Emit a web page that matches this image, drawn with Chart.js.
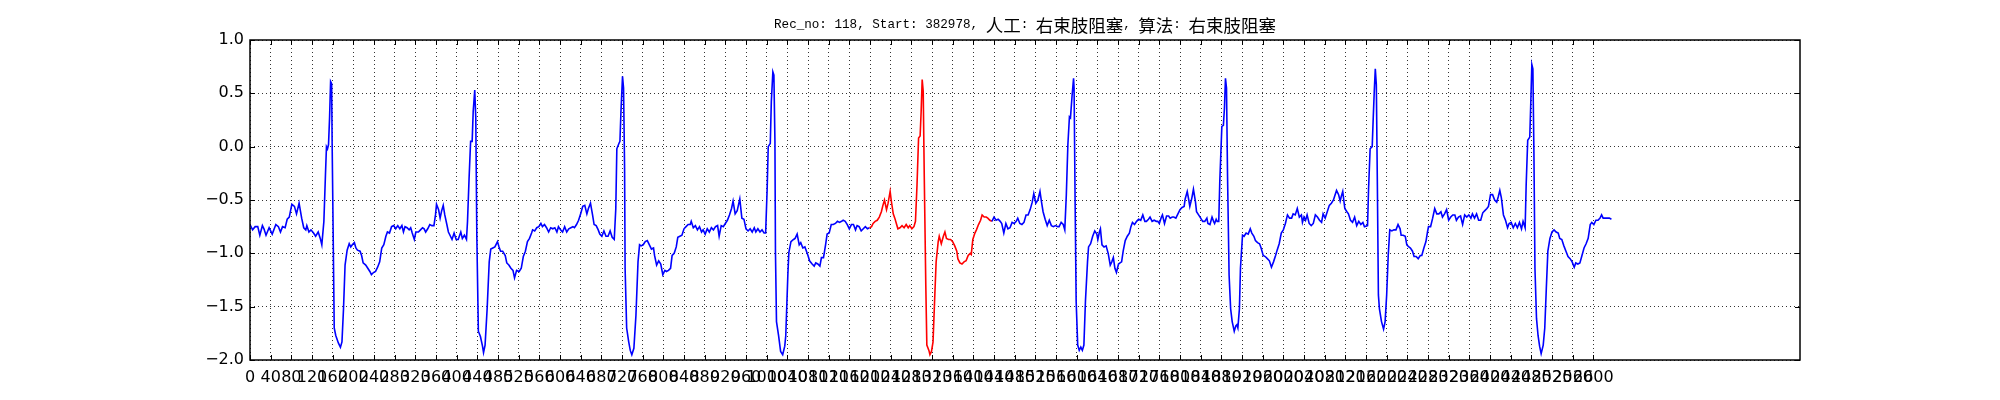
<!DOCTYPE html>
<html>
<head>
<meta charset="utf-8">
<script src="https://cdn.jsdelivr.net/npm/chart.js@4/dist/chart.umd.min.js"></script>
<style>
  html, body { margin: 0; padding: 0; background: #fff; }
  canvas { display: block; }
</style>
</head>
<body>
<canvas id="ecg" width="2000" height="400"></canvas>
<script>
// Record 118 excerpt.
// sampleIndex[i] pairs with amplitude[i]; rows are kept aligned 10 per line.
const sampleIndex = [
  0, 5, 10, 15, 19, 24, 27, 31, 37, 43,
  50, 55, 59, 63, 68, 72, 76, 81, 86, 90,
  95, 100, 104, 108, 110, 114, 118, 123, 127, 132,
  136, 139, 143, 146, 148, 150, 152, 154, 156, 158,
  159, 161, 163, 166, 171, 175, 178, 181, 184, 188,
  192, 195, 198, 202, 205, 208, 213, 216, 219, 224,
  228, 232, 235, 239, 243, 247, 251, 255, 259, 263,
  266, 270, 274, 278, 282, 286, 290, 294, 297, 300,
  304, 308, 311, 314, 318, 321, 326, 330, 334, 337,
  340, 344, 348, 352, 356, 359, 361, 365, 368, 371,
  374, 377, 381, 384, 388, 391, 395, 399, 403, 408,
  411, 415, 419, 421, 424, 427, 430, 432, 435, 437,
  439, 442, 446, 450, 452, 455, 459, 463, 466, 470,
  474, 479, 482, 485, 489, 494, 497, 501, 505, 509,
  512, 516, 521, 525,
  529, 533, 537, 541, 545, 547, 551, 555, 559, 563,
  566, 570, 574, 578, 582, 586, 590, 594, 597, 601,
  605, 609, 613, 617, 621, 625, 628, 632, 636, 640,
  644, 648, 652, 655, 659, 663, 666, 670, 674, 677,
  681, 685, 689, 693, 697, 701, 705, 708, 710, 714,
  716, 718, 721, 723, 725, 726, 729, 733, 736, 739,
  743, 747, 751, 754, 757, 761, 765, 769, 773, 777,
  781, 783, 787, 791, 795, 799, 803, 806, 810, 814,
  817, 821, 825, 828, 832, 836, 840, 844, 848, 852,
  854, 858, 862, 866, 870, 874, 877, 881, 885, 889,
  893, 897, 901, 905, 908, 912, 916, 920, 924, 928,
  932, 935, 939, 943, 948, 952, 956, 960, 964, 968,
  972, 976, 979, 983, 987, 991, 995, 998, 1001, 1003,
  1007, 1009, 1012, 1014, 1016, 1017, 1019, 1023, 1027, 1031,
  1035, 1037, 1041, 1043, 1047, 1052, 1055, 1059, 1063,
  1066, 1070, 1074, 1077, 1080, 1083, 1088, 1092, 1095, 1099,
  1103, 1106, 1110, 1114, 1117, 1121, 1125, 1129, 1133, 1137,
  1141, 1145, 1148, 1152, 1156, 1160, 1164, 1168, 1172, 1175,
  1179, 1183, 1187, 1191, 1195, 1199, 1203, 1206, 1210, 1214,
  1218, 1222, 1225, 1228, 1232, 1235, 1239, 1241, 1245, 1248,
  1251, 1254, 1258, 1262, 1266, 1270, 1274, 1277, 1281, 1285,
  1288, 1291, 1294, 1297, 1299, 1301, 1303, 1305, 1308, 1310,
  1314, 1316, 1319, 1322, 1325, 1328, 1332, 1334, 1338, 1342,
  1345, 1348, 1352, 1356, 1360, 1364, 1368, 1370, 1374, 1378,
  1382, 1386, 1390, 1394, 1396, 1399, 1403, 1406, 1410, 1414,
  1417, 1421, 1425, 1428, 1432, 1436, 1440, 1444, 1448, 1452,
  1455, 1459, 1463, 1467, 1471, 1475, 1479, 1483, 1486, 1490,
  1494, 1498, 1502, 1506, 1510, 1514, 1517, 1521, 1525, 1529,
  1532, 1535, 1539, 1543, 1547, 1551, 1555, 1559, 1563, 1566,
  1570, 1574, 1577, 1580, 1583, 1586, 1588, 1591, 1594,
  1595, 1597, 1599, 1602, 1605, 1608, 1611, 1614, 1617, 1621,
  1623, 1627, 1631, 1635, 1639, 1641, 1644, 1646, 1649, 1653,
  1657, 1661, 1665, 1668, 1671, 1674, 1677, 1681, 1684, 1687,
  1690, 1694, 1698, 1702, 1705, 1708, 1712, 1716, 1720, 1724,
  1728, 1732, 1735, 1739, 1742, 1746, 1750, 1754, 1757, 1760,
  1764, 1766, 1770, 1774, 1778, 1781, 1785, 1788, 1792, 1796,
  1800, 1804, 1808, 1810, 1814, 1817, 1819, 1823, 1826, 1830,
  1832, 1836, 1840, 1844, 1848, 1852, 1854, 1858, 1862, 1865,
  1867, 1870, 1872, 1875, 1877, 1881, 1884, 1886, 1888, 1890,
  1892, 1895, 1898, 1901, 1905, 1908, 1910, 1912, 1915, 1917,
  1921, 1924, 1928, 1932, 1936, 1939, 1943, 1946, 1950, 1954,
  1957, 1961, 1965, 1969, 1973, 1977, 1981, 1985, 1988, 1992,
  1996, 2000, 2004, 2008, 2012, 2016, 2019, 2023, 2027, 2031,
  2035, 2037, 2040, 2043, 2046, 2050, 2054, 2058, 2062, 2066,
  2070, 2074, 2077, 2081, 2085, 2089, 2093, 2097, 2099, 2103,
  2107, 2110, 2112, 2115, 2119, 2123, 2126,
  2130, 2134, 2138, 2142, 2146, 2150, 2154, 2157, 2163, 2165,
  2168, 2172, 2174, 2176, 2178, 2180, 2182, 2184, 2186, 2190,
  2194, 2197, 2200, 2203, 2206, 2210, 2214, 2218, 2222, 2226,
  2228, 2232, 2236, 2239, 2243, 2246, 2250, 2253, 2257, 2261,
  2265, 2268, 2272, 2276, 2279, 2281, 2285, 2289, 2293, 2297,
  2301, 2305, 2308, 2312, 2316, 2320, 2324, 2328, 2332, 2335,
  2339, 2343, 2347, 2351, 2355, 2359, 2363, 2366, 2370, 2374,
  2378, 2382, 2386, 2390, 2394, 2397, 2401, 2405, 2409, 2413,
  2416, 2419, 2422, 2426, 2430, 2434, 2437, 2441, 2445, 2449,
  2453, 2457, 2461, 2464, 2468, 2470, 2473, 2477, 2479, 2481,
  2483, 2485, 2487, 2490, 2493, 2496, 2499, 2503, 2506, 2509,
  2512, 2516, 2520, 2524, 2528, 2532, 2535, 2539, 2543, 2547,
  2551, 2555, 2559, 2563, 2566, 2570, 2574, 2578, 2582, 2586,
  2590, 2594, 2597, 2601, 2605, 2609, 2613, 2616, 2619, 2623,
  2627, 2631, 2635,
]

const amplitude = [
  -0.73, -0.78, -0.75, -0.75, -0.83, -0.74, -0.77, -0.83, -0.76, -0.82,
  -0.73, -0.75, -0.80, -0.75, -0.76, -0.68, -0.66, -0.54, -0.56, -0.63,
  -0.53, -0.67, -0.76, -0.78, -0.74, -0.80, -0.78, -0.81, -0.84, -0.80,
  -0.86, -0.92, -0.70, -0.27, 0.00, -0.02, 0.02, 0.27, 0.61, 0.59,
  0.02, -0.83, -1.70, -1.77, -1.84, -1.88, -1.83, -1.52, -1.11, -0.97,
  -0.91, -0.94, -0.92, -0.90, -0.95, -0.97, -0.98, -1.02, -1.09, -1.11,
  -1.14, -1.17, -1.20, -1.18, -1.17, -1.13, -1.08, -0.95, -0.92, -0.84,
  -0.80, -0.81, -0.75, -0.74, -0.77, -0.74, -0.77, -0.74, -0.80, -0.75,
  -0.76, -0.78, -0.76, -0.81, -0.87, -0.80, -0.80, -0.78, -0.76, -0.77,
  -0.80, -0.77, -0.73, -0.74, -0.74, -0.64, -0.54, -0.59, -0.67, -0.60,
  -0.55, -0.64, -0.73, -0.80, -0.84, -0.87, -0.81, -0.87, -0.87, -0.80,
  -0.86, -0.83, -0.87, -0.70, -0.30, 0.05, 0.05, 0.33, 0.53, 0.27,
  -0.83, -1.73, -1.78, -1.87, -1.93, -1.86, -1.52, -1.08, -0.96, -0.95,
  -0.94, -0.89, -0.94, -0.98, -0.98, -1.02, -1.09, -1.11, -1.14, -1.16,
  -1.23, -1.16, -1.17, -1.14,
  -1.03, -0.98, -0.89, -0.86, -0.81, -0.78, -0.79, -0.76, -0.75, -0.72,
  -0.75, -0.73, -0.76, -0.80, -0.76, -0.77, -0.76, -0.80, -0.75, -0.78,
  -0.80, -0.75, -0.80, -0.77, -0.76, -0.75, -0.76, -0.73, -0.69, -0.63,
  -0.56, -0.55, -0.63, -0.58, -0.53, -0.64, -0.73, -0.74, -0.78, -0.82,
  -0.84, -0.79, -0.84, -0.84, -0.79, -0.85, -0.87, -0.58, -0.02, 0.03,
  0.05, 0.33, 0.66, 0.55, -0.20, -1.14, -1.70, -1.83, -1.91, -1.95,
  -1.89, -1.58, -1.08, -0.92, -0.93, -0.92, -0.89, -0.88, -0.92, -0.96,
  -0.95, -1.02, -1.11, -1.07, -1.10, -1.20, -1.16, -1.17, -1.16, -1.14,
  -1.02, -1.00, -0.94, -0.85, -0.84, -0.83, -0.77, -0.75, -0.73, -0.73,
  -0.70, -0.76, -0.74, -0.78, -0.75, -0.80, -0.78, -0.82, -0.77, -0.80,
  -0.76, -0.78, -0.75, -0.74, -0.84, -0.74, -0.75, -0.72, -0.69, -0.64,
  -0.58, -0.51, -0.63, -0.60, -0.49, -0.67, -0.68, -0.77, -0.79, -0.77,
  -0.80, -0.76, -0.80, -0.77, -0.80, -0.78, -0.81, -0.81, -0.39, 0.00,
  0.03, 0.42, 0.70, 0.67, 0.05, -0.98, -1.64, -1.77, -1.92, -1.95,
  -1.87, -1.77, -1.20, -0.99, -0.89, -0.87, -0.86, -0.82, -0.92,
  -0.90, -0.95, -0.94, -0.98, -1.02, -1.07, -1.10, -1.12, -1.09, -1.10,
  -1.12, -1.04, -1.04, -0.92, -0.82, -0.81, -0.73, -0.73, -0.72, -0.70,
  -0.71, -0.70, -0.69, -0.70, -0.73, -0.77, -0.73, -0.73, -0.78, -0.74,
  -0.75, -0.79, -0.77, -0.75, -0.77, -0.76, -0.75, -0.72, -0.70, -0.69,
  -0.66, -0.61, -0.55, -0.50, -0.59, -0.53, -0.42, -0.50, -0.63, -0.67,
  -0.72, -0.77, -0.76, -0.74, -0.76, -0.73, -0.76, -0.74, -0.77, -0.75,
  -0.70, -0.36, 0.08, 0.10, 0.33, 0.63, 0.52, -0.27, -1.30, -1.86,
  -1.91, -1.95, -1.92, -1.83, -1.45, -1.08, -0.89, -0.84, -0.91, -0.84,
  -0.80, -0.86, -0.87, -0.87, -0.89, -0.93, -0.98, -1.05, -1.09, -1.10,
  -1.08, -1.07, -1.02, -1.00, -1.01, -0.87, -0.81, -0.78, -0.73, -0.69,
  -0.64, -0.66, -0.66, -0.67, -0.69, -0.70, -0.66, -0.69, -0.68, -0.70,
  -0.72, -0.81, -0.72, -0.77, -0.76, -0.71, -0.72, -0.70, -0.67, -0.72,
  -0.73, -0.71, -0.64, -0.64, -0.59, -0.52, -0.44, -0.53, -0.50, -0.42,
  -0.52, -0.61, -0.68, -0.74, -0.69, -0.74, -0.75, -0.74, -0.75, -0.75,
  -0.71, -0.73, -0.78, -0.45, 0.02, 0.28, 0.27, 0.47, 0.64,
  0.55, -0.52, -1.45, -1.86, -1.91, -1.88, -1.91, -1.86, -1.45, -1.08,
  -0.94, -0.91, -0.84, -0.79, -0.82, -0.87, -0.80, -0.77, -0.92, -0.94,
  -0.93, -1.00, -1.11, -1.08, -1.04, -1.14, -1.18, -1.10, -1.09, -1.08,
  -0.98, -0.88, -0.84, -0.81, -0.75, -0.71, -0.73, -0.70, -0.68, -0.69,
  -0.64, -0.70, -0.70, -0.68, -0.66, -0.70, -0.69, -0.70, -0.70, -0.72,
  -0.66, -0.64, -0.72, -0.65, -0.65, -0.67, -0.66, -0.66, -0.67, -0.63,
  -0.59, -0.57, -0.56, -0.49, -0.42, -0.50, -0.56, -0.48, -0.40, -0.52,
  -0.61, -0.64, -0.67, -0.70, -0.70, -0.67, -0.72, -0.73, -0.66, -0.70,
  -0.72, -0.68, -0.70, -0.70, -0.33, 0.19, 0.20, 0.36, 0.64, 0.55,
  -0.27, -1.20, -1.52, -1.64, -1.73, -1.68, -1.67, -1.70, -1.52, -1.14,
  -0.83, -0.84, -0.81, -0.82, -0.77, -0.81, -0.84, -0.88, -0.90, -0.91,
  -0.95, -1.02, -1.03, -1.05, -1.07, -1.13, -1.08, -1.02, -0.97, -0.91,
  -0.81, -0.78, -0.72, -0.64, -0.67, -0.67, -0.63, -0.64, -0.58, -0.66,
  -0.64, -0.71, -0.66, -0.69, -0.64, -0.72, -0.74, -0.72, -0.64, -0.66,
  -0.69, -0.71, -0.63, -0.67, -0.61, -0.55, -0.53, -0.50, -0.47, -0.41,
  -0.45, -0.51, -0.47, -0.42, -0.58, -0.61, -0.63,
  -0.69, -0.71, -0.66, -0.74, -0.70, -0.73, -0.71, -0.75, -0.74, -0.39,
  -0.02, 0.00, 0.27, 0.52, 0.73, 0.58, -0.36, -1.39, -1.52, -1.64,
  -1.71, -1.64, -1.39, -1.02, -0.78, -0.79, -0.78, -0.78, -0.73, -0.77,
  -0.83, -0.83, -0.84, -0.92, -0.94, -0.95, -0.98, -1.03, -1.03, -1.05,
  -1.02, -1.02, -0.95, -0.89, -0.80, -0.75, -0.75, -0.67, -0.58, -0.63,
  -0.63, -0.61, -0.66, -0.63, -0.59, -0.69, -0.66, -0.64, -0.64, -0.69,
  -0.66, -0.65, -0.73, -0.64, -0.66, -0.64, -0.67, -0.63, -0.67, -0.63,
  -0.69, -0.69, -0.62, -0.60, -0.58, -0.56, -0.45, -0.45, -0.50, -0.52,
  -0.47, -0.41, -0.48, -0.64, -0.69, -0.76, -0.72, -0.71, -0.76, -0.72,
  -0.76, -0.71, -0.77, -0.70, -0.76, -0.36, 0.06, 0.09, 0.42, 0.77,
  0.73, -0.05, -1.14, -1.61, -1.77, -1.87, -1.94, -1.86, -1.70, -1.33,
  -0.98, -0.86, -0.80, -0.78, -0.80, -0.81, -0.86, -0.87, -0.93, -0.98,
  -1.03, -1.05, -1.08, -1.13, -1.09, -1.10, -1.09, -1.02, -0.95, -0.91,
  -0.86, -0.73, -0.71, -0.73, -0.69, -0.69, -0.67, -0.64, -0.67, -0.67,
  -0.67, -0.67, -0.68,
]

// stretch the annotator flagged (drawn in red)
const flaggedWindow = [1199, 1436]

const xTicks = Array.from({ length: 66 }, (_, i) => i * 40)
const titleText = 'Rec_no: 118, Start: 382978, 人工: 右束肢阻塞, 算法: 右束肢阻塞'

if (sampleIndex.length !== amplitude.length) {
  console.error('length mismatch', sampleIndex.length, amplitude.length)
}

const BLUE = '#0000ff'
const RED = '#ff0000'
const inWindow = x => x >= flaggedWindow[0] && x <= flaggedWindow[1]

Chart.defaults.font.family = "'DejaVu Sans', sans-serif"
Chart.defaults.font.size = 16
Chart.defaults.color = '#000'

// matplotlib-ish frame with inward tick marks on all four sides
const frameTicks = {
  id: 'frameTicks',
  afterDraw(chart) {
    const { ctx, chartArea: a, scales: { x, y } } = chart
    ctx.save()
    ctx.strokeStyle = '#000'
    ctx.lineWidth = 1
    ctx.beginPath()
    for (const t of x.ticks) {
      const px = Math.round(x.getPixelForValue(t.value)) + 0.5
      ctx.moveTo(px, a.bottom); ctx.lineTo(px, a.bottom - 5)
      ctx.moveTo(px, a.top); ctx.lineTo(px, a.top + 5)
    }
    for (const t of y.ticks) {
      const py = Math.round(y.getPixelForValue(t.value)) + 0.5
      ctx.moveTo(a.left, py); ctx.lineTo(a.left + 5, py)
      ctx.moveTo(a.right, py); ctx.lineTo(a.right - 5, py)
    }
    ctx.stroke()
    ctx.lineWidth = 1.5
    ctx.strokeRect(a.left, a.top, a.right - a.left, a.bottom - a.top)
    ctx.restore()
  },
}

// title: ascii runs in a mono face, CJK runs in Noto CJK
const mixedTitle = {
  id: 'mixedTitle',
  afterDraw(chart) {
    const { ctx, chartArea: a } = chart
    const runs = titleText.match(/[\x00-\x7f]+|[^\x00-\x7f]+/g)
    const fontFor = s => /^[\x00-\x7f]/.test(s)
      ? "12.6px 'Liberation Mono', monospace"
      : "17.5px 'Noto Sans CJK SC', sans-serif"
    ctx.save()
    ctx.fillStyle = '#000'
    ctx.textBaseline = 'middle'
    let total = 0
    for (const r of runs) { ctx.font = fontFor(r); total += ctx.measureText(r).width }
    let cx = (a.left + a.right) / 2 - total / 2
    for (const r of runs) {
      ctx.font = fontFor(r)
      ctx.fillText(r, cx, 25)
      cx += ctx.measureText(r).width
    }
    ctx.restore()
  },
}

new Chart(document.getElementById('ecg'), {
  type: 'line',
  data: {
    datasets: [{
      data: sampleIndex.map((x, i) => ({ x, y: amplitude[i] })),
      borderColor: BLUE,
      borderWidth: 1.6,
      pointRadius: 0,
      tension: 0,
      segment: {
        borderColor: c => inWindow(c.p0.parsed.x) && inWindow(c.p1.parsed.x) ? RED : BLUE,
      },
    }],
  },
  options: {
    responsive: false,
    animation: false,
    devicePixelRatio: 1,
    layout: { padding: { top: 40, right: 200, left: 0, bottom: 0 } },
    plugins: { legend: { display: false }, tooltip: { enabled: false }, title: { display: false } },
    scales: {
      x: {
        type: 'linear',
        min: 0,
        max: 3000,
        afterBuildTicks: s => { s.ticks = xTicks.map(value => ({ value })) },
        afterFit: s => { s.height = 40 },
        grid: { color: 'rgba(0,0,0,0.8)', lineWidth: 1, drawTicks: false },
        border: { display: false, dash: [1, 3] },
        ticks: {
          autoSkip: false, maxRotation: 0, minRotation: 0, padding: 8,
          callback: v => String(v),
        },
      },
      y: {
        min: -2,
        max: 1,
        afterFit: s => { s.width = 250 },
        grid: { color: 'rgba(0,0,0,0.8)', lineWidth: 1, drawTicks: false },
        border: { display: false, dash: [1, 3] },
        ticks: {
          stepSize: 0.5, padding: 6,
          callback: v => (v < 0 ? '\u2212' : '') + Math.abs(v).toFixed(1),
        },
      },
    },
  },
  plugins: [frameTicks, mixedTitle],
})
</script>
</body>
</html>
